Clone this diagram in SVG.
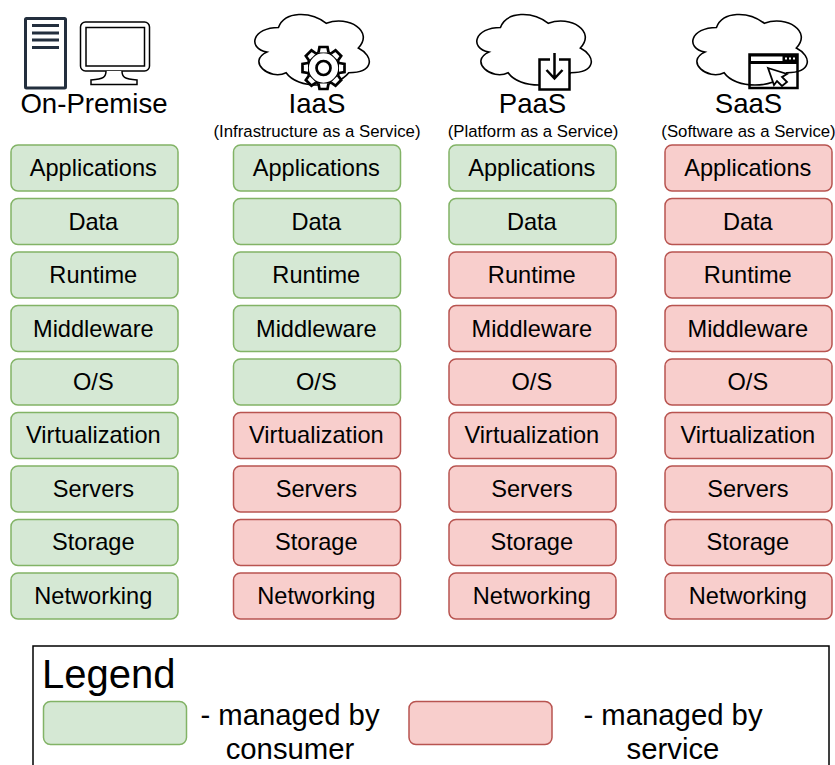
<svg xmlns="http://www.w3.org/2000/svg" width="835" height="765" viewBox="0 0 835 765">
<style>
text{font-family:"Liberation Sans",Arial,sans-serif;fill:#000;text-anchor:middle}
.b{stroke-width:1.5}
.g{fill:#d5e8d4;stroke:#82b366}
.r{fill:#f8cecc;stroke:#b85450}
.l{font-size:23.600px;transform:translateX(-.7px)}
.h{font-size:27.600px}
.s{font-size:16.800px}
.m{font-size:29.300px}
.c{fill:#fff;stroke:#000;stroke-width:1.500}
</style>
<defs>
<path id="cloud" d="M30 20C6 20 0 40 19.2 44C0 52.8 21.6 72 37.2 64C48 80 84 80 96 64C120 64 120 48 105 40C120 24 96 8 75 16C60 4 36 4 30 20Z"/>
<rect id="box" class="b" width="167" height="46" rx="7"/>
<polyline id="tooth" points="-5,-15.500 -4,-21 4,-21 5,-15.500" fill="#fff" stroke="#000" stroke-width="2.700"/>
</defs>
<rect width="835" height="765" fill="#fff"/>
<g id="onprem-head">
<rect x="25.500" y="18.500" width="40" height="69.500" rx="1" fill="#fff" stroke="#232f3e" stroke-width="3"/>
<path d="M32 25.500H59M32 33H59M32 40H59M32 47.500H59" stroke="#232f3e" stroke-width="3" fill="none"/>
<rect x="80.500" y="22" width="69" height="49" rx="5" fill="#fff" stroke="#000" stroke-width="1.500"/>
<rect x="86" y="27.500" width="58.500" height="38.500" fill="#fff" stroke="#000" stroke-width="1.500"/>
<path d="M106 71C106 77 104 79 91 80V84.500H137V80C124 79 122 77 122 71" fill="#fff" stroke="#000" stroke-width="1.500"/>
<text class="h" x="94" y="113">On-Premise</text>
</g>
<g id="iaas-head">
<use href="#cloud" class="c" transform="translate(246.500,6.800) scale(1.065,1.030)"/>
<circle cx="323.500" cy="68" r="16" fill="#fff" stroke="#000" stroke-width="2.700"/>
<use href="#tooth" transform="translate(323.500,68)"/>
<use href="#tooth" transform="translate(323.500,68) rotate(45)"/>
<use href="#tooth" transform="translate(323.500,68) rotate(90)"/>
<use href="#tooth" transform="translate(323.500,68) rotate(135)"/>
<use href="#tooth" transform="translate(323.500,68) rotate(180)"/>
<use href="#tooth" transform="translate(323.500,68) rotate(225)"/>
<use href="#tooth" transform="translate(323.500,68) rotate(270)"/>
<use href="#tooth" transform="translate(323.500,68) rotate(315)"/>
<circle cx="323.500" cy="68" r="7" fill="#fff" stroke="#000" stroke-width="2.700"/>
<text class="h" x="317" y="113">IaaS</text>
<text class="s" x="317" y="137">(Infrastructure as a Service)</text>
</g>
<g id="paas-head">
<use href="#cloud" class="c" transform="translate(468.500,6.800) scale(1.065,1.030)"/>
<path d="M550 59.500H539.500V89.500H569.500V59.500H559" fill="#fff" stroke="#000" stroke-width="2.500"/>
<path d="M554.500 53V78M546.500 70L554.500 78.500L562.500 70" fill="none" stroke="#000" stroke-width="2.500"/>
<text class="h" x="532.500" y="113">PaaS</text>
<text class="s" x="533" y="137">(Platform as a Service)</text>
</g>
<g id="saas-head">
<use href="#cloud" class="c" transform="translate(684.500,6.800) scale(1.065,1.030)"/>
<rect x="749.500" y="54.500" width="48" height="33.500" fill="none" stroke="#000" stroke-width="2.500"/>
<rect x="749" y="54" width="49" height="10" fill="#000"/>
<rect x="751" y="56.500" width="31.500" height="4.500" fill="#fff"/>
<path d="M785 58.500H796" stroke="#fff" stroke-width="2" stroke-dasharray="2 2"/>
<path d="M768 68L787 74L782 77L787 82L782 86L777 81L774 85Z" fill="#fff" stroke="#000" stroke-width="1.800"/>
<text class="h" x="748.500" y="113">SaaS</text>
<text class="s" x="748.500" y="137">(Software as a Service)</text>
</g>
<g id="connectors"/>
<g id="col1">
<g id="c1-1"><use href="#box" class="g" x="11" y="145"/><text class="l" x="94" y="176">Applications</text></g>
<g id="c1-2"><use href="#box" class="g" x="11" y="198.500"/><text class="l" x="94" y="230">Data</text></g>
<g id="c1-3"><use href="#box" class="g" x="11" y="252"/><text class="l" x="94" y="283">Runtime</text></g>
<g id="c1-4"><use href="#box" class="g" x="11" y="305.500"/><text class="l" x="94" y="337">Middleware</text></g>
<g id="c1-5"><use href="#box" class="g" x="11" y="359"/><text class="l" x="94" y="390">O/S</text></g>
<g id="c1-6"><use href="#box" class="g" x="11" y="412.500"/><text class="l" x="94" y="443">Virtualization</text></g>
<g id="c1-7"><use href="#box" class="g" x="11" y="466"/><text class="l" x="94" y="497">Servers</text></g>
<g id="c1-8"><use href="#box" class="g" x="11" y="519.500"/><text class="l" x="94" y="550">Storage</text></g>
<g id="c1-9"><use href="#box" class="g" x="11" y="573"/><text class="l" x="94" y="604">Networking</text></g>
</g>
<g id="col2">
<g id="c2-1"><use href="#box" class="g" x="233.500" y="145"/><text class="l" x="317" y="176">Applications</text></g>
<g id="c2-2"><use href="#box" class="g" x="233.500" y="198.500"/><text class="l" x="317" y="230">Data</text></g>
<g id="c2-3"><use href="#box" class="g" x="233.500" y="252"/><text class="l" x="317" y="283">Runtime</text></g>
<g id="c2-4"><use href="#box" class="g" x="233.500" y="305.500"/><text class="l" x="317" y="337">Middleware</text></g>
<g id="c2-5"><use href="#box" class="g" x="233.500" y="359"/><text class="l" x="317" y="390">O/S</text></g>
<g id="c2-6"><use href="#box" class="r" x="233.500" y="412.500"/><text class="l" x="317" y="443">Virtualization</text></g>
<g id="c2-7"><use href="#box" class="r" x="233.500" y="466"/><text class="l" x="317" y="497">Servers</text></g>
<g id="c2-8"><use href="#box" class="r" x="233.500" y="519.500"/><text class="l" x="317" y="550">Storage</text></g>
<g id="c2-9"><use href="#box" class="r" x="233.500" y="573"/><text class="l" x="317" y="604">Networking</text></g>
</g>
<g id="col3">
<g id="c3-1"><use href="#box" class="g" x="449" y="145"/><text class="l" x="532.500" y="176">Applications</text></g>
<g id="c3-2"><use href="#box" class="g" x="449" y="198.500"/><text class="l" x="532.500" y="230">Data</text></g>
<g id="c3-3"><use href="#box" class="r" x="449" y="252"/><text class="l" x="532.500" y="283">Runtime</text></g>
<g id="c3-4"><use href="#box" class="r" x="449" y="305.500"/><text class="l" x="532.500" y="337">Middleware</text></g>
<g id="c3-5"><use href="#box" class="r" x="449" y="359"/><text class="l" x="532.500" y="390">O/S</text></g>
<g id="c3-6"><use href="#box" class="r" x="449" y="412.500"/><text class="l" x="532.500" y="443">Virtualization</text></g>
<g id="c3-7"><use href="#box" class="r" x="449" y="466"/><text class="l" x="532.500" y="497">Servers</text></g>
<g id="c3-8"><use href="#box" class="r" x="449" y="519.500"/><text class="l" x="532.500" y="550">Storage</text></g>
<g id="c3-9"><use href="#box" class="r" x="449" y="573"/><text class="l" x="532.500" y="604">Networking</text></g>
</g>
<g id="col4">
<g id="c4-1"><use href="#box" class="r" x="665" y="145"/><text class="l" x="748.500" y="176">Applications</text></g>
<g id="c4-2"><use href="#box" class="r" x="665" y="198.500"/><text class="l" x="748.500" y="230">Data</text></g>
<g id="c4-3"><use href="#box" class="r" x="665" y="252"/><text class="l" x="748.500" y="283">Runtime</text></g>
<g id="c4-4"><use href="#box" class="r" x="665" y="305.500"/><text class="l" x="748.500" y="337">Middleware</text></g>
<g id="c4-5"><use href="#box" class="r" x="665" y="359"/><text class="l" x="748.500" y="390">O/S</text></g>
<g id="c4-6"><use href="#box" class="r" x="665" y="412.500"/><text class="l" x="748.500" y="443">Virtualization</text></g>
<g id="c4-7"><use href="#box" class="r" x="665" y="466"/><text class="l" x="748.500" y="497">Servers</text></g>
<g id="c4-8"><use href="#box" class="r" x="665" y="519.500"/><text class="l" x="748.500" y="550">Storage</text></g>
<g id="c4-9"><use href="#box" class="r" x="665" y="573"/><text class="l" x="748.500" y="604">Networking</text></g>
</g>
<g id="legend">
<rect x="33" y="646" width="796" height="130" fill="#fff" stroke="#000" stroke-width="1.500"/>
<text x="42" y="688" font-size="40" style="text-anchor:start">Legend</text>
<rect class="g b" x="43.500" y="701.500" width="143" height="43" rx="7"/>
<rect class="r b" x="409" y="701.500" width="143" height="43" rx="7"/>
<text class="m" x="290" y="725">- managed by</text>
<text class="m" x="290" y="759">consumer</text>
<text class="m" x="673" y="725">- managed by</text>
<text class="m" x="673" y="759">service</text>
</g>
</svg>
